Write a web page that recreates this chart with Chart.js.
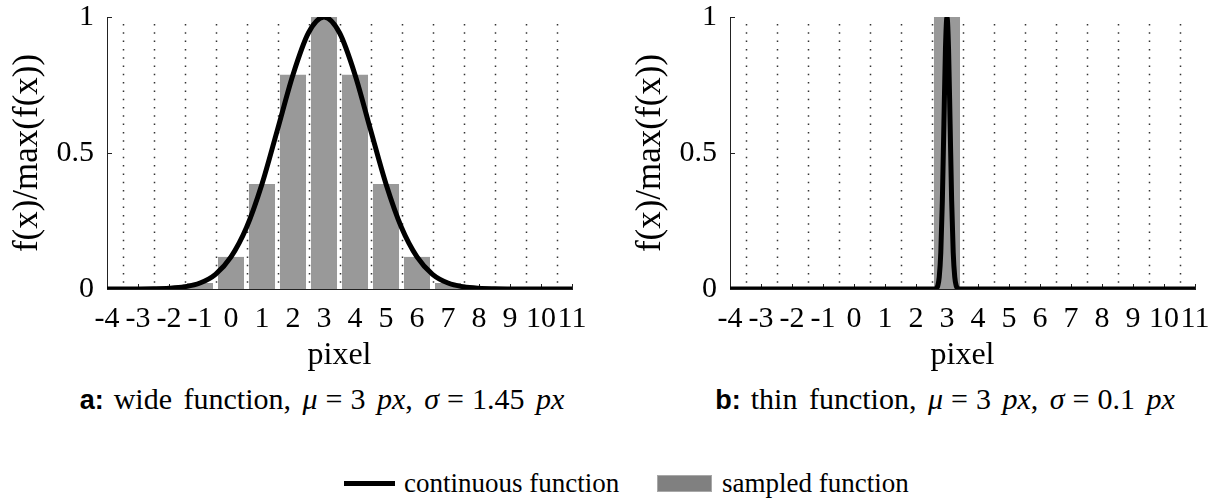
<!DOCTYPE html>
<html>
<head>
<meta charset="utf-8">
<script src="https://cdn.jsdelivr.net/npm/chart.js@4.4.1/dist/chart.umd.min.js"></script>
<style>
html,body{margin:0;padding:0;background:#fff;}
body{width:1213px;height:500px;position:relative;overflow:hidden;font-family:"Liberation Serif",serif;color:#000;}
.wrap{position:absolute;top:0;height:375px;}
.cap{position:absolute;top:382px;height:34px;line-height:34px;font-size:30px;text-align:center;white-space:nowrap;word-spacing:4px;}
.cap b{font-family:"Liberation Sans",Arial,sans-serif;font-weight:bold;font-size:27px;margin-right:10px;word-spacing:0;}
.cap .r{margin:0 8px;}
.leg{position:absolute;top:467px;height:32px;line-height:32px;font-size:27px;white-space:nowrap;}
.legline{position:absolute;left:344px;top:481px;width:51px;height:5px;background:#000;}
.legbox{position:absolute;left:657px;top:475px;width:53px;height:15px;background:#808080;border:1px solid #a8a8a8;}
</style>
</head>
<body>
<div class="wrap" style="left:0;width:600px;"><canvas id="c1"></canvas></div>
<div class="wrap" style="left:623px;width:590px;"><canvas id="c2"></canvas></div>

<div class="cap" style="left:0;width:644px;"><b>a:</b>wide function, <i>μ</i><span class="r">=</span>3 <i>px</i>, <i>σ</i><span class="r">=</span>1.45 <i>px</i></div>
<div class="cap" style="left:623px;width:644px;"><b>b:</b>thin function, <i>μ</i><span class="r">=</span>3 <i>px</i>, <i>σ</i><span class="r">=</span>0.1 <i>px</i></div>

<div class="legline"></div>
<div class="leg" style="left:404px;">continuous function</div>
<div class="legbox"></div>
<div class="leg" style="left:722px;">sampled function</div>

<script>
// ---- data ----
const pixels = [-4, -3, -2, -1, 0, 1, 2, 3, 4, 5, 6, 7, 8, 9, 10, 11];
const sampledWide = [0, 0.0002, 0.0026, 0.022, 0.118, 0.386, 0.788, 1, 0.788, 0.386, 0.118, 0.022, 0.0026, 0.0002, 0, 0];
const sampledThin = [0, 0, 0, 0, 0, 0, 0, 1, 0, 0, 0, 0, 0, 0, 0, 0];

const contWideX = [-4, -3.5, -3, -2.5, -2, -1.5, -1, -0.5, 0, 0.5, 1, 1.5, 2, 2.5, 3, 3.5, 4, 4.5, 5, 5.5, 6, 6.5, 7, 7.5, 8, 8.5, 9, 9.5, 10, 10.5, 11];
const contWideY = [0, 0, 0.0002, 0.0008, 0.0026, 0.0081, 0.022, 0.054, 0.118, 0.226, 0.386, 0.586, 0.788, 0.942, 1, 0.942, 0.788, 0.586, 0.386, 0.226, 0.118, 0.054, 0.022, 0.0081, 0.0026, 0.0008, 0.0002, 0, 0, 0, 0];

const contThinX = [-4, 2.5, 2.6, 2.65, 2.7, 2.75, 2.8, 2.85, 2.9, 2.95, 3, 3.05, 3.1, 3.15, 3.2, 3.25, 3.3, 3.35, 3.4, 3.5, 11];
const contThinY = [0, 0, 0.0003, 0.002, 0.011, 0.044, 0.135, 0.325, 0.607, 0.882, 1, 0.882, 0.607, 0.325, 0.135, 0.044, 0.011, 0.002, 0.0003, 0, 0];

const yTicks = [0, 0.5, 1];
const yTitle = 'f(x)/max(f(x))';
const xTitle = 'pixel';

// ---- drawing ----
const FONT = '"Liberation Serif", serif';
const H = 375, PLOT_BOTTOM = 289, PAD_TOP = 17, YAXIS_W = 107;

const matlabAxes = {
  id: 'matlabAxes',
  beforeDatasetsDraw(chart) {
    const {ctx, chartArea, scales: {x, y}} = chart;
    ctx.save();
    ctx.strokeStyle = '#333';
    ctx.lineWidth = 1.5;
    ctx.setLineDash([1.5, 6.8]);
    const t = x.ticks;
    for (let i = 0; i < t.length - 1; i++) {
      const v = (t[i].value + t[i + 1].value) / 2;
      const px = Math.round(x.getPixelForValue(v)) + 0.5;
      ctx.beginPath();
      ctx.moveTo(px, chartArea.top + 7);
      ctx.lineTo(px, chartArea.bottom);
      ctx.stroke();
    }
    ctx.setLineDash([]);
    ctx.strokeStyle = '#222';
    ctx.lineWidth = 1;
    t.forEach(tk => {
      const px = Math.round(x.getPixelForValue(tk.value)) + 0.5;
      ctx.beginPath();
      ctx.moveTo(px, chartArea.bottom);
      ctx.lineTo(px, chartArea.bottom - 5);
      ctx.stroke();
    });
    y.ticks.forEach(tk => {
      const py = Math.round(y.getPixelForValue(tk.value)) + 0.5;
      ctx.beginPath();
      ctx.moveTo(chartArea.left, py);
      ctx.lineTo(chartArea.left + 5, py);
      ctx.stroke();
    });
    ctx.restore();
  }
};

function makeChart(id, width, sampled, cx, cy) {
  return new Chart(document.getElementById(id), {
    type: 'line',
    data: {
      datasets: [
        {
          type: 'line', label: 'continuous function',
          data: cx.map((x, i) => ({x: x, y: cy[i]})),
          borderColor: '#000', borderWidth: 5, pointRadius: 0,
          cubicInterpolationMode: 'monotone', fill: false, order: 0
        },
        {
          type: 'bar', label: 'sampled function',
          data: pixels.map((x, i) => ({x: x, y: sampled[i]})),
          backgroundColor: '#999999', borderWidth: 0,
          barPercentage: 0.84, categoryPercentage: 1, order: 1
        }
      ]
    },
    options: {
      responsive: true, maintainAspectRatio: false, animation: false,
      layout: {padding: {left: 0, right: width - 572, top: PAD_TOP, bottom: 0}},
      plugins: {legend: {display: false}, tooltip: {enabled: false}},
      scales: {
        x: {
          type: 'linear', min: -4, max: 11, offset: false,
          afterBuildTicks: s => { s.ticks = pixels.map(v => ({value: v})); },
          afterFit: s => { s.height = H - PLOT_BOTTOM; s.paddingLeft = 0; s.paddingRight = 0; },
          grid: {display: false, drawTicks: false},
          border: {display: true, color: '#222', width: 1},
          ticks: {font: {family: FONT, size: 30, lineHeight: 1}, color: '#000', padding: 15,
                  maxRotation: 0, autoSkip: false, callback: v => String(v)},
          title: {display: true, text: xTitle, font: {family: FONT, size: 32, lineHeight: 1.2},
                  color: '#000', padding: {top: 0, bottom: 0}}
        },
        y: {
          min: 0, max: 1,
          afterBuildTicks: s => { s.ticks = yTicks.map(v => ({value: v})); },
          afterFit: s => { s.width = YAXIS_W; s.paddingTop = 0; s.paddingBottom = 0; },
          grid: {display: false, drawTicks: false},
          border: {display: true, color: '#222', width: 1},
          ticks: {font: {family: FONT, size: 30, lineHeight: 1}, color: '#000', padding: 13,
                  callback: v => String(v)},
          title: {display: true, text: yTitle, font: {family: FONT, size: 35, lineHeight: 1.2},
                  color: '#000', padding: {top: 7, bottom: 0}}
        }
      }
    },
    plugins: [matlabAxes]
  });
}

document.fonts.load('30px "Liberation Serif"').finally(() => {
  makeChart('c1', 600, sampledWide, contWideX, contWideY);
  makeChart('c2', 590, sampledThin, contThinX, contThinY);
});
</script>
</body>
</html>
